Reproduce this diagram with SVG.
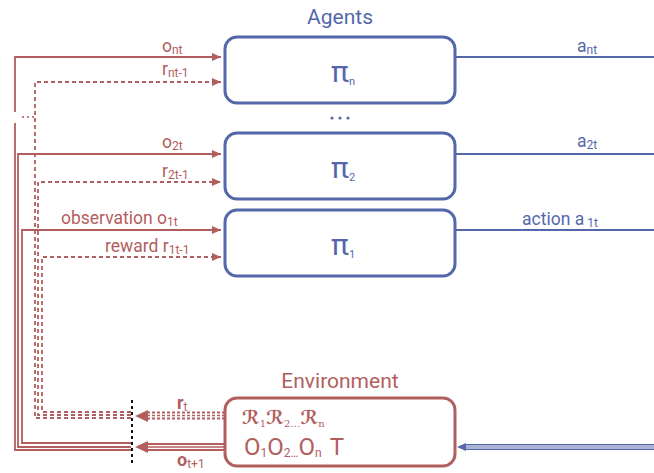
<svg xmlns="http://www.w3.org/2000/svg" width="654" height="473" viewBox="0 0 654 473">
<style>
text{font-family:Roboto,"Liberation Sans",sans-serif}
.r{fill:#b35e5e}
.b{fill:#5567ab}
.box-b{fill:#fff;stroke:#5567ab;stroke-width:3}
.box-r{fill:#fff;stroke:#b35e5e;stroke-width:3}
.ls{fill:none;stroke:#b35e5e;stroke-width:1.8}
.ld{fill:none;stroke:#b35e5e;stroke-width:1.8;stroke-dasharray:4 3}
.lb{fill:none;stroke:#5567ab;stroke-width:2}
.lbl{font-size:17.5px}
.sub{font-size:12px}
</style>
<defs>
<marker id="ar" markerUnits="userSpaceOnUse" markerWidth="10" markerHeight="10" refX="9" refY="4" orient="auto"><path d="M0,0 L9,4 L0,8 z" fill="#b35e5e"/></marker>
</defs>

<g id="connectors">
  <path class="ls" d="M15,112 V57 H221" marker-end="url(#ar)"/>
  <path class="ls" d="M15,123 V450 H131"/>
  <path class="ls" d="M131,447 H18 V154 H221" marker-end="url(#ar)"/>
  <path class="ls" d="M131,443 H22 V230 H221" marker-end="url(#ar)"/>
  <path class="ld" d="M131,418 H35 V82 H221" marker-end="url(#ar)"/>
  <path class="ld" d="M131,415 H38 V182 H221" marker-end="url(#ar)"/>
  <path class="ld" d="M131,412 H42 V257 H221" marker-end="url(#ar)"/>
  <g fill="#b35e5e"><circle cx="23" cy="117" r="1.1"/><circle cx="28" cy="117" r="1.1"/><circle cx="33" cy="117" r="1.1"/></g>
  <path d="M225,415.5 H146" fill="none" stroke="#b35e5e" stroke-width="8" stroke-dasharray="3 2"/>
  <path d="M225,415.5 H146" fill="none" stroke="#fff" stroke-width="4" stroke-dasharray="3 2"/>
  <path d="M225,415.5 H146" fill="none" stroke="#b35e5e" stroke-width="1.6" stroke-dasharray="3 2"/>
  <polygon points="135,416 148,410 148,422" fill="#b35e5e"/>
  <path d="M225,447 H146" fill="none" stroke="#b35e5e" stroke-width="8"/>
  <path d="M225,447 H146" fill="none" stroke="#fff" stroke-width="4"/>
  <path d="M225,447 H146" fill="none" stroke="#b35e5e" stroke-width="1.6"/>
  <polygon points="135,447 148,441 148,453" fill="#b35e5e"/>
  <path d="M132,400 V463" fill="none" stroke="#111" stroke-width="2" stroke-dasharray="3 3"/>
  <path class="lb" d="M456,57 H654"/>
  <path class="lb" d="M456,154 H654"/>
  <path class="lb" d="M456,230 H654"/>
  <path d="M654,447 H464" fill="none" stroke="#5567ab" stroke-width="6"/>
  <path d="M654,447 H464" fill="none" stroke="#fff" stroke-width="3"/>
  <path d="M654,447 H464" fill="none" stroke="#5567ab" stroke-width="1"/>
  <polygon points="457,447 466,443 466,451" fill="#5567ab"/>
</g>

<g id="labels">
  <text class="r lbl" x="162" y="52">o<tspan class="sub" dy="2">nt</tspan></text>
  <text class="r lbl" x="162" y="75">r<tspan class="sub" dy="2">nt-1</tspan></text>
  <text class="r lbl" x="162" y="148">o<tspan class="sub" dy="2">2t</tspan></text>
  <text class="r lbl" x="162" y="177">r<tspan class="sub" dy="2">2t-1</tspan></text>
  <text class="r lbl" x="61" y="224">observation o<tspan class="sub" dy="2">1t</tspan></text>
  <text class="r lbl" x="105" y="252">reward r<tspan class="sub" dy="2">1t-1</tspan></text>
  <text class="b lbl" x="577" y="52">a<tspan class="sub" dy="2">nt</tspan></text>
  <text class="b lbl" x="577" y="147">a<tspan class="sub" dy="2">2t</tspan></text>
  <text class="b lbl" x="522" y="225">action a<tspan class="sub" dy="2" dx="3">1t</tspan></text>
  <text class="r" x="177" y="409" font-size="18" font-weight="bold">r<tspan font-size="12" font-weight="normal" dy="2">t</tspan></text>
  <text class="r" x="177" y="466" font-size="18" font-weight="bold">o<tspan font-size="12" font-weight="normal" dy="2">t+1</tspan></text>
</g>

<g id="agents-title"><text class="b" x="340" y="24" font-size="21" text-anchor="middle">Agents</text></g>

<g id="agent-n">
  <rect class="box-b" x="225" y="37" width="230" height="66" rx="12"/>
  <text class="b" x="331" y="82" font-size="30">π<tspan font-size="11" dy="3">n</tspan></text>
</g>
<g id="agent-dots" fill="#5567ab"><circle cx="332" cy="118" r="1.6"/><circle cx="340" cy="118" r="1.6"/><circle cx="348" cy="118" r="1.6"/></g>
<g id="agent-2">
  <rect class="box-b" x="225" y="133" width="230" height="66" rx="12"/>
  <text class="b" x="331" y="178" font-size="30">π<tspan font-size="11" dy="3">2</tspan></text>
</g>
<g id="agent-1">
  <rect class="box-b" x="225" y="210" width="230" height="66" rx="12"/>
  <text class="b" x="331" y="255" font-size="30">π<tspan font-size="11" dy="3">1</tspan></text>
</g>

<g id="environment">
  <text class="r" x="340" y="388" font-size="21" text-anchor="middle">Environment</text>
  <rect class="box-r" x="225" y="398" width="230" height="68" rx="12"/>
  <text class="r" x="242" y="424" font-size="19" font-weight="bold" font-style="italic" style="font-family:'DejaVu Serif','DejaVu Sans',serif">ℛ<tspan font-size="10" font-weight="normal" font-style="normal" dy="3">1</tspan><tspan dy="-3">ℛ</tspan><tspan font-size="10" font-weight="normal" font-style="normal" dy="3">2…</tspan><tspan dy="-3">ℛ</tspan><tspan font-size="10" font-weight="normal" font-style="normal" dy="3">n</tspan></text>
  <text class="r" x="244" y="455" font-size="24">O<tspan font-size="12" dy="2">1</tspan><tspan dy="-2">O</tspan><tspan font-size="12" dy="2">2…</tspan><tspan dy="-2">O</tspan><tspan font-size="12" dy="2">n</tspan><tspan dy="-2" dx="8">T</tspan></text>
</g>
</svg>
